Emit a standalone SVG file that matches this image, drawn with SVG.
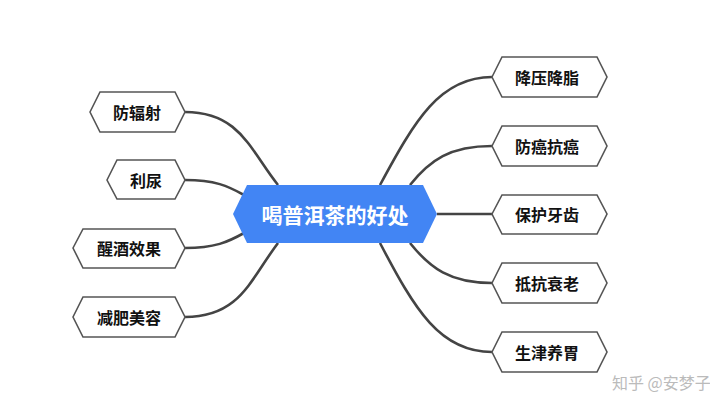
<svg xmlns="http://www.w3.org/2000/svg" width="710" height="416" viewBox="0 0 710 416">
<style>
.n polygon{fill:#fff;stroke:#555;stroke-width:1.6}
.n text{font-family:"Noto Sans CJK SC",sans-serif;font-weight:bold;font-size:16px;fill:#111;text-anchor:middle;dominant-baseline:central}
#conn path{fill:none;stroke:#444;stroke-width:2.6}
</style>
<rect width="710" height="416" fill="#fff"/>
<g id="conn">
<path d="M185,112 C240,112 250,150 278,185"/>
<path d="M185,180 C215,180 228,186 244,195"/>
<path d="M185,248 C215,248 228,242 244,233"/>
<path d="M185,317 C240,317 250,280 278,243"/>
<path d="M492,77 C440,77 415,120 380,185"/>
<path d="M492,146 C450,146 430,160 410,185"/>
<path d="M437,214 L492,214"/>
<path d="M492,283 C450,283 430,268 410,243"/>
<path d="M492,352 C440,352 415,310 380,243"/>
</g>
<g id="center">
<polygon points="233,214 247,185 423,185 437,214 423,243 247,243" fill="#4285f4"/>
<text x="335" y="214" font-family="'Noto Sans CJK SC',sans-serif" font-weight="bold" font-size="21" fill="#fff" text-anchor="middle" dominant-baseline="central">喝普洱茶的好处</text>
</g>
<g id="n1" class="n"><polygon points="90,112 100,92 175,92 185,112 175,132 100,132"/><text x="137" y="112">防辐射</text></g>
<g id="n2" class="n"><polygon points="107,180 117,160 175,160 185,180 175,199 117,199"/><text x="146" y="180">利尿</text></g>
<g id="n3" class="n"><polygon points="73,248 83,229 175,229 185,248 175,268 83,268"/><text x="129" y="248">醒酒效果</text></g>
<g id="n4" class="n"><polygon points="73,317 83,297 175,297 185,317 175,337 83,337"/><text x="129" y="317">减肥美容</text></g>
<g id="n5" class="n"><polygon points="492,77 502,57 597,57 607,77 597,97 502,97"/><text x="547" y="77">降压降脂</text></g>
<g id="n6" class="n"><polygon points="492,146 502,126 597,126 607,146 597,166 502,166"/><text x="547" y="146">防癌抗癌</text></g>
<g id="n7" class="n"><polygon points="492,214 502,195 597,195 607,214 597,234 502,234"/><text x="547" y="214">保护牙齿</text></g>
<g id="n8" class="n"><polygon points="492,283 502,263 597,263 607,283 597,303 502,303"/><text x="547" y="283">抵抗衰老</text></g>
<g id="n9" class="n"><polygon points="492,352 502,332 597,332 607,352 597,372 502,372"/><text x="547" y="352">生津养胃</text></g>
<text x="612" y="389" font-family="'Noto Sans CJK SC',sans-serif" font-size="16" fill="#bbb">知乎 @安梦子</text>
</svg>
